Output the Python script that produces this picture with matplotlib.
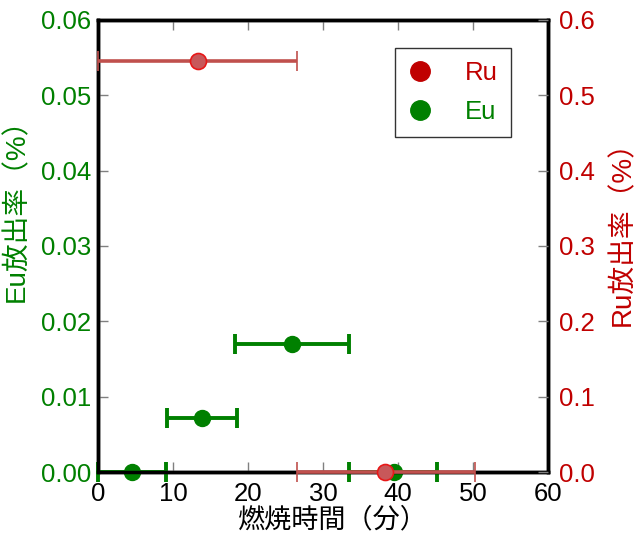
import matplotlib.pyplot as plt
from matplotlib.lines import Line2D

plt.rcParams['font.family'] = ['Liberation Sans', 'Noto Sans CJK JP']

# Eu release (left axis, %)
eu_time = [4.6, 13.9, 25.9, 39.5]
eu_xerr_lo = [4.6, 4.7, 7.6, 6.0]
eu_xerr_hi = [4.5, 4.6, 7.6, 5.7]
eu_val = [0.0, 0.0072, 0.0170, 0.0]

# Ru release (right axis, %)
ru_time = [13.4, 38.3]
ru_xerr_lo = [13.4, 11.8]
ru_xerr_hi = [13.1, 12.0]
ru_val = [0.546, 0.0]

green = '#008000'
red = '#c00000'
ru_bar = '#c0504d'

fig = plt.figure(figsize=(6.43, 5.37), dpi=100)
ax = fig.add_axes([0.1524, 0.121, 0.6998, 0.842])
ax2 = ax.twinx()

ax.errorbar(eu_time, eu_val, xerr=[eu_xerr_lo, eu_xerr_hi], fmt='o', color=green,
            ms=11.5, elinewidth=2.8, capsize=7, capthick=2.8, clip_on=False, zorder=5)
ax2.errorbar(ru_time, ru_val, xerr=[ru_xerr_lo, ru_xerr_hi], fmt='o', color=ru_bar,
             mfc='#c8585a', mec='#e81818', mew=1.2, ms=11.5, elinewidth=2.6,
             capsize=7, capthick=2.6, clip_on=False, zorder=5)

ax.set_xlim(0, 60)
ax.set_ylim(0, 0.06)
ax2.set_ylim(0, 0.6)
ax.set_xticks([0, 10, 20, 30, 40, 50, 60])
ax.set_yticks([0, 0.01, 0.02, 0.03, 0.04, 0.05, 0.06])
ax.set_yticklabels(['0.00', '0.01', '0.02', '0.03', '0.04', '0.05', '0.06'])
ax2.set_yticks([0, 0.1, 0.2, 0.3, 0.4, 0.5, 0.6])
ax2.set_yticklabels(['0.0', '0.1', '0.2', '0.3', '0.4', '0.5', '0.6'])

for a in (ax, ax2):
    for s in a.spines.values():
        s.set_linewidth(2.5)
        s.set_zorder(1)

ax.tick_params(axis='x', direction='in', length=7, width=1, color='gray',
               labelsize=18.5, top=True, pad=7)
ax.tick_params(axis='y', direction='in', length=7, width=1, color='gray',
               labelsize=18.5, labelcolor=green, pad=5)
ax2.tick_params(axis='y', direction='in', length=7, width=1, color='gray',
                labelsize=18.5, labelcolor=red, pad=8)

ax.set_xlabel('燃焼時間（分）', fontsize=19.5)
ax.set_ylabel('Eu放出率（%）', fontsize=20, color=green)
ax2.set_ylabel('Ru放出率（%）', fontsize=20, color=red)
ax.xaxis.set_label_coords(0.52, -0.078)
ax.yaxis.set_label_coords(-0.15, 0.595)
ax2.yaxis.set_label_coords(1.138, 0.542)

handles = [Line2D([], [], ls='none', marker='o', ms=14, color=red),
           Line2D([], [], ls='none', marker='o', ms=14, color=green)]
leg = ax2.legend(handles, ['Ru', 'Eu'], loc='upper right', bbox_to_anchor=(0.918, 0.938),
                 borderaxespad=0, fontsize=18.5, frameon=True, fancybox=False,
                 edgecolor='black', handlelength=1.0, handletextpad=1.25,
                 borderpad=0.5, labelspacing=0.6)
leg.get_frame().set_linewidth(1.0)
for t, c in zip(leg.get_texts(), [red, green]):
    t.set_color(c)

fig.savefig('out.png', dpi=100)
